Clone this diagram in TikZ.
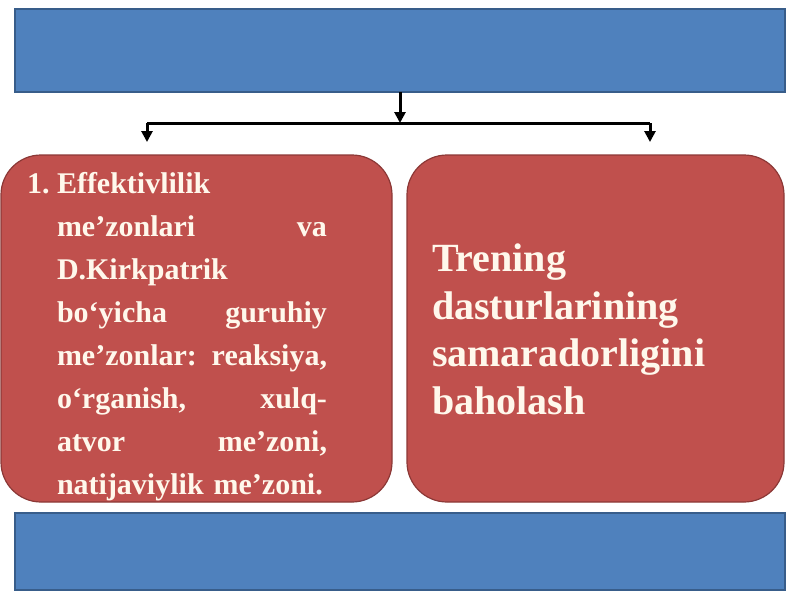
\documentclass[tikz,border=0pt]{standalone}
\usepackage{fontspec}
\setmainfont{Liberation Serif}
\usepackage{tikz}
\usetikzlibrary{positioning, arrows.meta}
\definecolor{boxblue}{HTML}{4F81BD}
\definecolor{edgeblue}{HTML}{385D8A}
\definecolor{boxred}{HTML}{C0504D}
\definecolor{edgered}{HTML}{8C3836}
\definecolor{txt}{HTML}{FFF8EC}

\begin{document}
\begin{tikzpicture}[x=0.5pt, y=-0.5pt,
                    every node/.style = {inner sep=0pt, outer sep=0pt},
                    band/.style = {draw=edgeblue, line width=0.6pt, fill=boxblue, minimum width=385pt, minimum height=41.5pt},
                    card/.style = {draw=edgered, line width=0.6pt, fill=boxred, rounded corners=20pt, minimum height=173.5pt},
                    link/.style = {draw, line width=1.5pt, -{Triangle[length=5.5pt, width=5.5pt]}},
                    words/.style = {anchor=north west, align=left, text=txt}]
            \useasboundingbox (0,0) rectangle (800,600);

            \node (top)    [band] at (400,50.5) {};
            \node (left)   [card, minimum width=195.5pt] at (196.5,328.5) {};
            \node (right)  [card, minimum width=188.5pt] at (595.5,328.5) {};
            \node (bottom) [band, minimum height=38.5pt] at (400,551.5) {};

            \coordinate (split) at (400,123);
            \coordinate (sl) at (147,123);
            \coordinate (sr) at (650,123);
            \coordinate (tl) at (147,142);
            \coordinate (tr) at (650,142);

            \draw [link] (top) -- (split);
            \draw [line width=1.5pt] (sl) -- (sr);
            \draw [link] (sl) -- (tl);
            \draw [link] (sr) -- (tr);

            \node (ltext) [words, text width=150pt, font=\bfseries\fontsize{15}{21.5}\selectfont] at (27,172) {%
                \makebox[15pt][l]{1.}Effektivlilik\\
                \hspace*{15pt}me’zonlari \hfill va\\
                \hspace*{15pt}D.Kirkpatrik\\
                \hspace*{15pt}bo‘yicha \hfill guruhiy\\
                \hspace*{15pt}\mbox{me’zonlar:} \hfill \mbox{reaksiya,}\\
                \hspace*{15pt}o‘rganish, \hfill xulq-\\
                \hspace*{15pt}atvor \hfill me’zoni,\\
                \hspace*{15pt}\mbox{natijaviylik me’zoni.}};
            \node (rtext) [words, text width=150pt, font=\bfseries\fontsize{20}{23.75}\selectfont] at (432,244) {%
                Trening\\ dasturlarining\\ samaradorligini\\ baholash};
            \end{tikzpicture}
\end{document}
